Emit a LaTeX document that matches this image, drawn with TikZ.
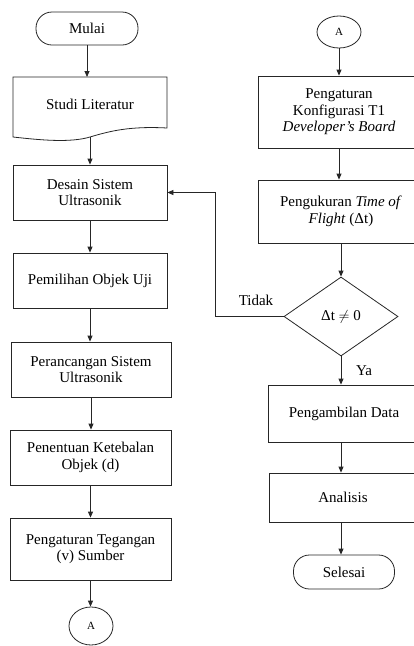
\documentclass[tikz,border=0pt]{standalone}
\usepackage{fontspec}
\setmainfont{Liberation Serif}
\usetikzlibrary{shapes.geometric,arrows.meta}
\newcommand\konektor[3]{%
\node[konek, minimum height=#3] (#1) at (#2) {A};
}
\newcommand\panah[2]{%
\draw[arr] (#1.south) -- (#1.south |- #2.north);
}

\begin{document}
\begin{tikzpicture}[x=1pt,y=-1pt,
  every node/.style={font=\fontsize{15}{16.5}\selectfont, align=center},
  garis/.style={line width=0.8pt, draw=black!85},
  arr/.style={garis, -{Triangle[length=6pt,width=5pt]}},
  proses/.style={garis, rectangle, inner sep=2pt},
  terminal/.style={garis, rectangle, rounded corners=16pt, minimum width=102pt, minimum height=33pt},
  konek/.style={garis, ellipse, inner sep=0pt, minimum width=44pt, font=\fontsize{11}{12}\selectfont},
  keputusan/.style={garis, diamond, inner sep=0pt, minimum width=114pt, minimum height=79pt}]
	%% ukuran gambar
	\useasboundingbox (0,0) rectangle (414,646);
	\clip (0,0) rectangle (414,646);

	%% kolom kiri
	\node[terminal] (mulai) at (87,28.5) {Mulai};

	% dokumen studi literatur
	\draw[garis] (13,77) -- (167,77) -- (167,128)
	  .. controls (130,126) and (110,131) .. (90,137)
	  .. controls (70,143) and (40,140) .. (13,137) -- cycle;
	\node (studi) at (90,104) {Studi Literatur};
	\coordinate (studiT) at (90,77);
	\coordinate (studiB) at (90,137);

	\node[proses, minimum width=154pt, minimum height=55pt] (desain) at (90,192.5) {Desain Sistem\\Ultrasonik};
	\node[proses, minimum width=154pt, minimum height=55pt] (pilih) at (90,280.5) {Pemilihan Objek Uji};
	\node[proses, minimum width=160pt, minimum height=55pt] (rancang) at (91,369.5) {Perancangan Sistem\\Ultrasonik};
	\node[proses, minimum width=161pt, minimum height=55pt] (tebal) at (90.5,457.5) {Penentuan Ketebalan\\Objek (d)};
	\node[proses, minimum width=161pt, minimum height=62pt] (tegangan) at (90.5,549) {Pengaturan Tegangan\\(v) Sumber};
	\konektor{akiri}{91,626}{38pt}

	%% kolom kanan
	\konektor{akanan}{339,32}{32pt}
	\node[proses, minimum width=162pt, minimum height=72pt] (konfig) at (339,112) {Pengaturan\\Konfigurasi T1\\\textit{Developer’s Board}};
	\node[proses, minimum width=166pt, minimum height=63pt] (ukur) at (341,211.5) {Pengukuran \textit{Time of}\\\textit{Flight} (Δt)};
	\node[keputusan] (cek) at (341,316.5) {Δt $\neq$ 0};
	\node[proses, minimum width=152pt, minimum height=57pt] (ambil) at (344,413.5) {Pengambilan Data};
	\node[proses, minimum width=148pt, minimum height=49pt] (analisis) at (343,497.5) {Analisis};
	\node[terminal, minimum width=101pt, minimum height=34pt] (selesai) at (344,572) {Selesai};

	\node (tidak) at (256,300) {Tidak};
	\node (ya) at (364,371) {Ya};

	%% panah
	\draw[arr] (mulai.south) -- (mulai.south |- studiT);
	\draw[arr] (studiB) -- (studiB |- desain.north);
	\panah{desain}{pilih}
	\panah{pilih}{rancang}
	\panah{rancang}{tebal}
	\panah{tebal}{tegangan}
	\panah{tegangan}{akiri}

	\panah{akanan}{konfig}
	\panah{konfig}{ukur}
	\draw[arr] (ukur.south -| cek.north) -- (cek.north);
	\panah{cek}{ambil}
	\draw[arr] (cek.south |- ambil.south) -- (cek.south |- analisis.north);
	\draw[arr] (cek.south |- analisis.south) -- (cek.south |- selesai.north);
	\draw[arr] (cek.west) -- ++(-68,0) |- (desain.east);
\end{tikzpicture}
\end{document}
